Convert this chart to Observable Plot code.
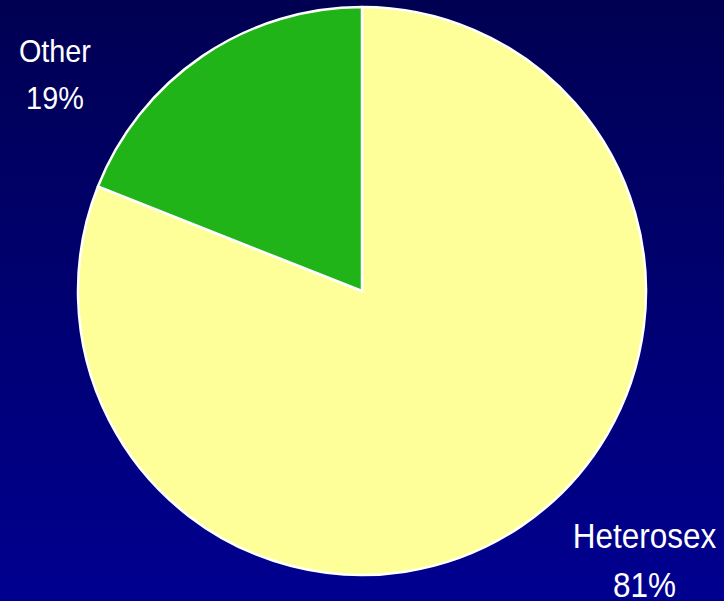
<!DOCTYPE html>
<html><head><meta charset="utf-8">
<script src="https://cdn.jsdelivr.net/npm/d3@7"></script>
<script src="https://cdn.jsdelivr.net/npm/@observablehq/plot@0.6"></script>
<style>
html,body{margin:0;padding:0;width:724px;height:601px;overflow:hidden;background:linear-gradient(to bottom,#000052,#000090);}
#chart svg{display:block;}
</style></head><body><div id="chart"></div>
<script>
const categories = ["Heterosex", "Other"];
const percents = [81, 19];
const percentLabels = ["81%", "19%"];
const sliceColors = ["#ffff99", "#20b418"];

const data = categories.map((c, i) => ({category: c, value: percents[i], label: percentLabels[i], color: sliceColors[i]}));
const arcs = d3.pie().sort(null).value(d => d.value)(data);

const pieMark = (index, scales) => {
  const cx = scales.x(0), cy = scales.y(0), r = Math.abs(scales.x(1) - scales.x(0));
  const g = d3.create("svg:g").attr("transform", `translate(${cx},${cy})`);
  const arc = d3.arc().innerRadius(0).outerRadius(r);
  g.selectAll("path").data(arcs).join("path")
    .attr("d", arc)
    .attr("fill", d => d.data.color)
    .attr("stroke", "white")
    .attr("stroke-width", 2.5)
    .attr("stroke-linejoin", "round");
  return g.node();
};

const font = "'Liberation Sans', Arial, sans-serif";
const textOpts = {fill: "white", fontFamily: font, textAnchor: "middle", lineAnchor: "top"};

const plot = Plot.plot({
  width: 724,
  height: 601,
  marginLeft: 78,
  marginRight: 78,
  marginTop: 7,
  marginBottom: 26,
  x: {domain: [-1, 1], axis: null},
  y: {domain: [-1, 1], axis: null},
  style: {background: "transparent", overflow: "visible"},
  marks: [
    pieMark,
    Plot.text([data[0]], {...textOpts, fontSize: 35, x: () => 0.993, y: () => -0.782, text: d => d.category + "\n" + d.label, lineHeight: 1.4}),
    Plot.text([data[1]], {...textOpts, fontSize: 32, x: () => -1.083, y: () => 0.927, text: d => d.category + "\n" + d.label, lineHeight: 1.47})
  ]
});
plot.querySelectorAll("g[aria-label=text] text").forEach(t => {
  t.setAttribute("transform", (t.getAttribute("transform") || "") + " scale(0.9,1)");
});
document.getElementById("chart").appendChild(plot);
</script></body></html>
